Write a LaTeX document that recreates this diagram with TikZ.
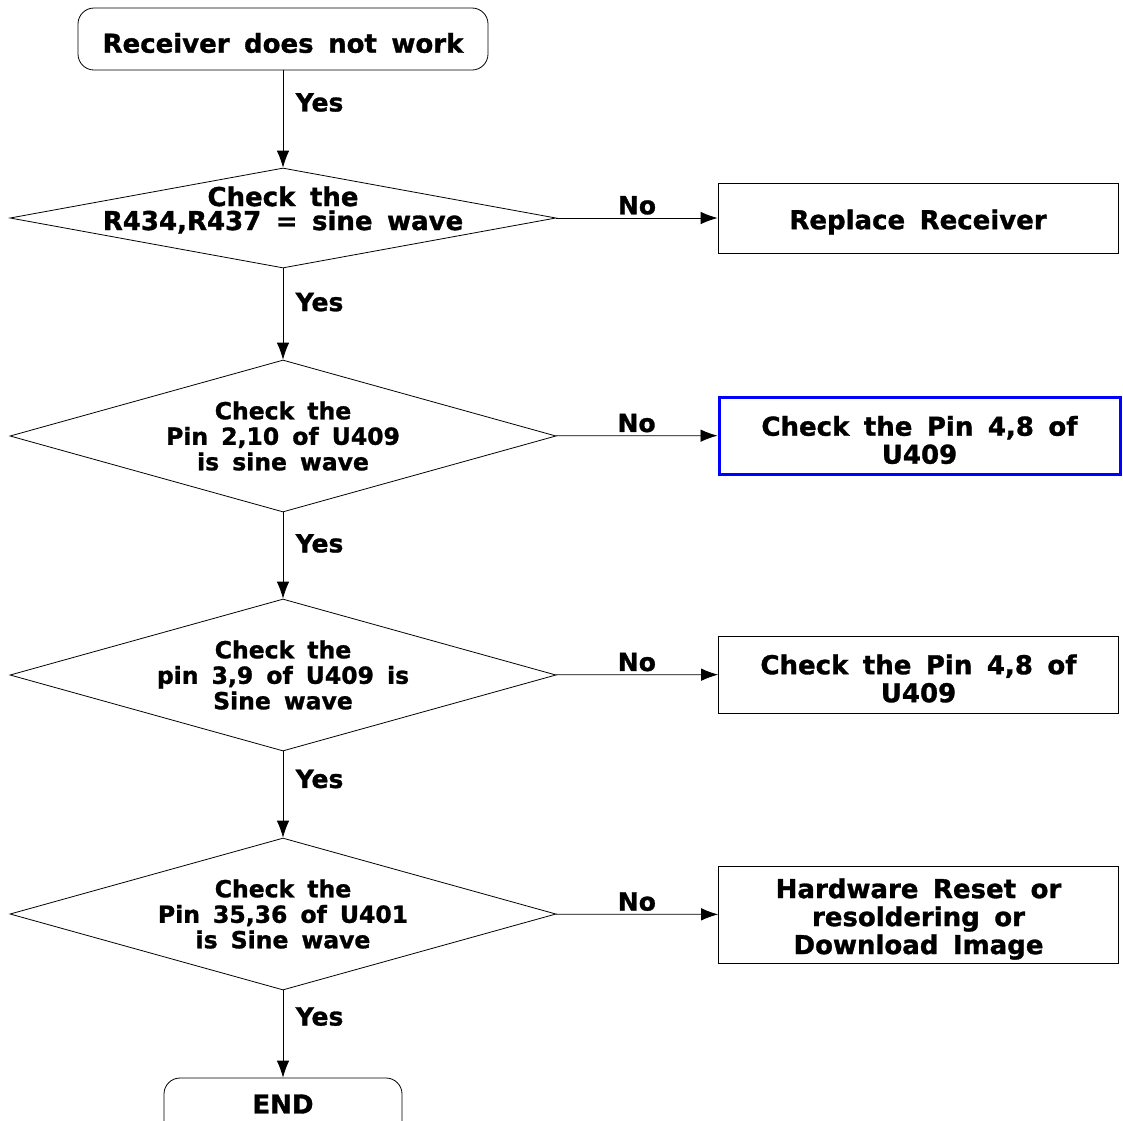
\documentclass[tikz,border=0pt]{standalone}
\usepackage{fontspec}
\setmainfont{DejaVu Sans}[WordSpace=1.6, BoldFeatures={FakeBold=1.2}]
\usetikzlibrary{shapes.geometric,arrows.meta}

\tikzset{
  terminal/.style={draw, line width=0.8pt, rounded corners=16pt, minimum height=62pt},
  decision/.style={draw, line width=0.8pt, diamond, minimum width=546pt, minimum height=152pt, inner sep=0pt},
  action/.style={draw, line width=0.8pt, minimum width=400pt, minimum height=77pt},
  btext/.style={align=center, inner sep=0pt, font=\bfseries\fontsize{26}{28}\selectfont},
  dtext/.style={align=center, inner sep=0pt, font=\bfseries\fontsize{23.5}{25.5}\selectfont},
  yeslbl/.style={anchor=west, xshift=9pt, font=\bfseries\fontsize{25}{27}\selectfont},
  nolbl/.style={above, inner sep=3pt, font=\bfseries\fontsize{25}{27}\selectfont},
}

\begin{document}
\begin{tikzpicture}[x=1pt, y=-1pt, >={Latex[length=17pt,width=12.5pt]}]

\useasboundingbox (0,0) rectangle (1123,1120);

% Main column
\node[terminal, minimum width=410pt] (start) at (283,39) {};
\node[btext] (t0) at (283,43) {Receiver does not work};
\node[decision, minimum height=100pt] (d1) at (283,218) {};
\node[dtext, yshift=8pt, font=\bfseries\fontsize{26}{24}\selectfont] (t1) at (d1) {Check the\\R434,R437 = sine wave};
\node[decision] (d2) at (283,436) {};
\node[dtext] (t2) at (d2) {Check the\\Pin 2,10 of U409\\is sine wave};
\node[decision] (d3) at (283,675) {};
\node[dtext] (t3) at (d3) {Check the\\pin 3,9 of U409 is\\Sine wave};
\node[decision] (d4) at (283,914) {};
\node[dtext] (t4) at (d4) {Check the\\Pin 35,36 of U401\\is Sine wave};
\node[terminal, minimum width=238pt, minimum height=60pt] (stop) at (283,1108) {};
\node[btext] (t9) at (283,1104) {END};

% Right column
\node[action, minimum height=70pt] (r1) at (918,218) {};
\node[btext] (s1) at (918,222) {Replace Receiver};
\node[action, draw=blue, line width=3pt, minimum width=401pt] (r2) at (919.5,435.5) {};
\node[btext] (s2) at (919.5,440) {Check the Pin 4,8 of\\U409};
\node[action] (r3) at (918.5,674.5) {};
\node[btext] (s3) at (918.5,678.5) {Check the Pin 4,8 of\\U409};
\node[action, minimum height=97pt] (r4) at (918.5,914.5) {};
\node[btext] (s4) at (918.5,919) {Hardware Reset or\\resoldering or\\Download Image};

% Yes branches
\draw[->, line width=0.8pt] (start) -- (d1) node[yeslbl, pos=0.33] {Yes};
\draw[->, line width=0.8pt] (d1) -- (d2) node[yeslbl, pos=0.37] {Yes};
\draw[->, line width=0.8pt] (d2) -- (d3) node[yeslbl, pos=0.36] {Yes};
\draw[->, line width=0.8pt] (d3) -- (d4) node[yeslbl, pos=0.32] {Yes};
\draw[->, line width=0.8pt] (d4) -- (stop) node[yeslbl, pos=0.30] {Yes};

% No branches
\draw[->, line width=0.8pt] (d1) -- (r1) node[nolbl, midway] {No};
\draw[->, line width=0.8pt] (d2) -- (r2) node[nolbl, midway] {No};
\draw[->, line width=0.8pt] (d3) -- (r3) node[nolbl, midway] {No};
\draw[->, line width=0.8pt] (d4) -- (r4) node[nolbl, midway] {No};

\end{tikzpicture}
\end{document}
